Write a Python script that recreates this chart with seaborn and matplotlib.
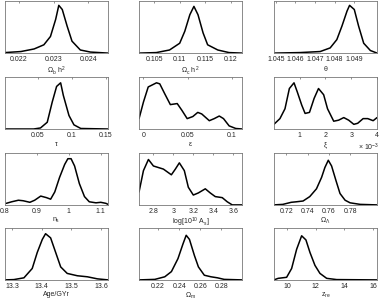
import matplotlib
matplotlib.use('Agg')
import matplotlib.pyplot as plt
import seaborn as sns

# posterior curves (x value, height as fraction of axes)
omb_x = [0.0216, 0.02206, 0.02244, 0.02272, 0.02291, 0.02306, 0.02315, 0.02325, 0.02339, 0.02353, 0.02377, 0.02406, 0.02457]
omb_y = [0.01, 0.03, 0.08, 0.16, 0.32, 0.65, 0.92, 0.84, 0.52, 0.23, 0.06, 0.02, 0.0]

omc_x = [0.102, 0.1054, 0.108, 0.110, 0.111, 0.112, 0.1128, 0.1136, 0.1146, 0.1155, 0.1175, 0.1197, 0.1223]
omc_y = [0.0, 0.01, 0.06, 0.19, 0.42, 0.74, 0.9, 0.74, 0.39, 0.16, 0.06, 0.01, 0.0]

theta_x = [1.0449, 1.04623, 1.04726, 1.04777, 1.04811, 1.04837, 1.04863, 1.04876, 1.049, 1.04922, 1.04948, 1.04982, 1.05016]
theta_y = [0.0, 0.01, 0.03, 0.1, 0.26, 0.52, 0.81, 0.92, 0.84, 0.52, 0.19, 0.05, 0.0]

tau_x = [0.002, 0.044, 0.054, 0.0639, 0.0712, 0.0776, 0.0835, 0.0874, 0.0957, 0.103, 0.113, 0.153]
tau_y = [0.0, 0.0, 0.02, 0.13, 0.52, 0.82, 0.89, 0.65, 0.26, 0.08, 0.01, 0.0]

eps_x = [-0.005, 0.0, 0.0054, 0.0148, 0.0185, 0.0241, 0.0305, 0.0383, 0.0436, 0.0496, 0.0560, 0.0616, 0.0661,
         0.0747, 0.0803, 0.086, 0.0908, 0.0972, 0.1047, 0.112]
eps_y = [0.2, 0.52, 0.81, 0.89, 0.87, 0.68, 0.47, 0.49, 0.36, 0.2, 0.24, 0.32, 0.29, 0.16, 0.2, 0.25, 0.2,
         0.06, 0.01, 0.0]

xi_x = [0.0, 0.234, 0.43, 0.6, 0.78, 0.91, 1.08, 1.21, 1.38, 1.56, 1.73, 1.93, 2.08, 2.32, 2.51, 2.71, 2.9,
        3.1, 3.25, 3.46, 3.64, 3.85, 4.0]
xi_y = [0.09, 0.2, 0.39, 0.78, 0.89, 0.71, 0.46, 0.3, 0.32, 0.59, 0.78, 0.66, 0.39, 0.15, 0.17, 0.22, 0.17,
        0.09, 0.11, 0.2, 0.2, 0.16, 0.22]

ns_x = [0.804, 0.821, 0.842, 0.857, 0.878, 0.893, 0.912, 0.93, 0.943, 0.956, 0.971, 0.987, 0.997, 1.007,
        1.018, 1.033, 1.049, 1.064, 1.085, 1.1, 1.116, 1.123]
ns_y = [0.03, 0.06, 0.09, 0.08, 0.05, 0.09, 0.17, 0.14, 0.11, 0.25, 0.53, 0.78, 0.89, 0.89, 0.75, 0.41,
        0.16, 0.06, 0.04, 0.05, 0.03, 0.01]

as_x = [2.656, 2.7, 2.75, 2.8, 2.85, 2.9, 2.98, 3.02, 3.06, 3.11, 3.15, 3.2, 3.25, 3.32, 3.37, 3.42, 3.49,
        3.54, 3.59, 3.69]
as_y = [0.25, 0.66, 0.875, 0.75, 0.72, 0.69, 0.58, 0.69, 0.81, 0.66, 0.34, 0.19, 0.23, 0.31, 0.23, 0.16,
        0.14, 0.06, 0.0, 0.0]

oml_x = [0.7084, 0.7168, 0.7247, 0.7295, 0.7358, 0.7421, 0.7484, 0.7532, 0.7563, 0.7595, 0.7626, 0.7667,
         0.7705, 0.7753, 0.78, 0.7895, 0.8053]
oml_y = [0.0, 0.01, 0.05, 0.06, 0.075, 0.16, 0.31, 0.53, 0.72, 0.86, 0.75, 0.47, 0.22, 0.09, 0.04, 0.01, 0.0]

age_x = [13.276, 13.306, 13.34, 13.368, 13.385, 13.402, 13.413, 13.43, 13.447, 13.464, 13.486, 13.52,
         13.554, 13.588, 13.624]
age_y = [0.0, 0.006, 0.04, 0.22, 0.53, 0.78, 0.89, 0.81, 0.53, 0.25, 0.125, 0.08, 0.06, 0.02, 0.0]

omm_x = [0.2019, 0.2169, 0.2263, 0.2326, 0.2388, 0.2435, 0.2466, 0.2497, 0.2544, 0.2582, 0.2638, 0.2701,
         0.2763, 0.2826, 0.2997]
omm_y = [0.0, 0.01, 0.06, 0.16, 0.41, 0.69, 0.86, 0.78, 0.47, 0.25, 0.09, 0.06, 0.04, 0.01, 0.0]

zre_x = [9.07, 9.37, 9.96, 10.31, 10.66, 11.01, 11.31, 11.59, 11.94, 12.29, 12.76, 13.46, 16.28]
zre_y = [0.0, 0.03, 0.05, 0.22, 0.59, 0.85, 0.77, 0.53, 0.28, 0.125, 0.03, 0.006, 0.0]

labels = [r'$\Omega_b\ h^2$', r'$\Omega_c\ h^2$', r'$\theta$',
          r'$\tau$', r'$\epsilon$', r'$\xi$',
          r'$n_s$', r'log[10$^{10}$ A$_s$]', r'$\Omega_\Lambda$',
          'Age/GYr', r'$\Omega_m$', r'$z_{re}$']
xticks = [[0.022, 0.023, 0.024], [0.105, 0.11, 0.115, 0.12], [1.045, 1.046, 1.047, 1.048, 1.049],
          [0.05, 0.1, 0.15], [0, 0.05, 0.1], [1, 2, 3, 4],
          [0.8, 0.9, 1.0, 1.1], [2.8, 3.0, 3.2, 3.4, 3.6], [0.72, 0.74, 0.76, 0.78],
          [13.3, 13.4, 13.5, 13.6], [0.22, 0.24, 0.26, 0.28], [10, 12, 14, 16]]
xticklabels = [['0.022', '0.023', '0.024'], ['0.105', '0.11', '0.115', '0.12'],
               ['1.045', '1.046', '1.047', '1.048', '1.049'],
               ['0.05', '0.1', '0.15'], ['0', '0.05', '0.1'], ['1', '2', '3', '4'],
               ['0.8', '0.9', '1', '1.1'], ['2.8', '3', '3.2', '3.4', '3.6'], ['0.72', '0.74', '0.76', '0.78'],
               ['13.3', '13.4', '13.5', '13.6'], ['0.22', '0.24', '0.26', '0.28'], ['10', '12', '14', '16']]

curves = [(omb_x, omb_y), (omc_x, omc_y), (theta_x, theta_y),
          (tau_x, tau_y), (eps_x, eps_y), (xi_x, xi_y),
          (ns_x, ns_y), (as_x, as_y), (oml_x, oml_y),
          (age_x, age_y), (omm_x, omm_y), (zre_x, zre_y)]

sns.set_style('white')
plt.rcParams['font.family'] = ['Liberation Sans', 'DejaVu Sans']
plt.rcParams['mathtext.fontset'] = 'custom'
plt.rcParams['mathtext.rm'] = 'Liberation Sans'
plt.rcParams['mathtext.it'] = 'Liberation Sans'

fig = plt.figure(figsize=(3.82, 3.0), dpi=100)
lefts = [0.013, 0.364, 0.717]
bottoms = [0.823, 0.570, 0.317, 0.067]
w, h = 0.27, 0.173

for i, (cx, cy) in enumerate(curves):
    r, c = divmod(i, 3)
    ax = fig.add_axes([lefts[c], bottoms[r], w, h])
    sns.lineplot(x=cx, y=cy, ax=ax, color='black', linewidth=1.1, sort=False)
    ax.set_xlim(cx[0], cx[-1])
    ax.set_ylim(0, 1)
    ax.set_yticks([])
    ax.set_xticks(xticks[i])
    ax.set_xticklabels(xticklabels[i])
    ax.tick_params(axis='x', direction='in', length=1.5, width=0.5, top=True,
                   labelsize=5, pad=2, color='#666666')
    ax.set_xlabel(labels[i], fontsize=5, labelpad=1)
    for s in ax.spines.values():
        s.set_color('#777777')
        s.set_linewidth(0.6)
    if i == 5:
        # offset multiplier for the xi axis
        ax.text(0.92, -0.24, r'$\times$ 10$^{-3}$', transform=ax.transAxes,
                fontsize=5, ha='center', va='top')

fig.savefig('out.png', dpi=100, facecolor='white')
